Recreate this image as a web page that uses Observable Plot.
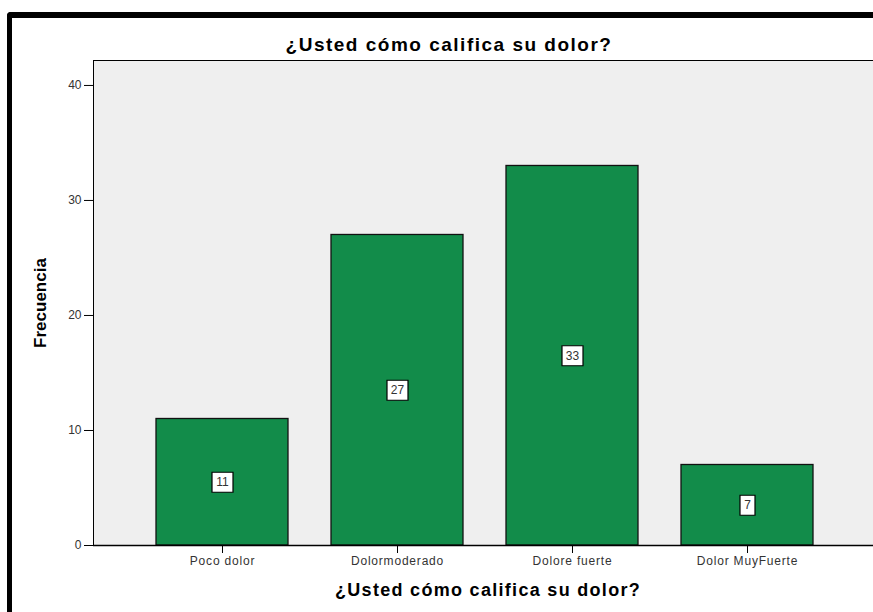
<!DOCTYPE html>
<html>
<head>
<meta charset="utf-8">
<script src="https://cdn.jsdelivr.net/npm/d3@7"></script>
<script src="https://cdn.jsdelivr.net/npm/@observablehq/plot@0.6"></script>
<style>
  html, body { margin: 0; padding: 0; overflow: hidden; background: white; }
  #wrap { position: relative; width: 873px; height: 612px; overflow: hidden; }
  #border { position: absolute; left: 7px; top: 12px; width: 1000px; height: 800px;
            border-top: 6px solid #000; border-left: 5px solid #000; border-top-left-radius: 4px; box-sizing: border-box; }
  #chart { position: absolute; left: 0; top: 0; }
</style>
</head>
<body>
<div id="wrap">
  <div id="border"></div>
  <div id="chart"></div>
</div>
<script>
const categories = ["Poco dolor", "Dolormoderado", "Dolore fuerte", "Dolor MuyFuerte"];
const frecuencias = [11, 27, 33, 7];
const yTicks = [0, 10, 20, 30, 40];
const chartTitle = "¿Usted cómo califica su dolor?";
const xLabel = "¿Usted cómo califica su dolor?";
const yLabel = "Frecuencia";

const data = categories.map((c, i) => ({category: c, value: frecuencias[i], mid: frecuencias[i] / 2}));

function boxSymbol(w, h) {
  return {draw(ctx) { ctx.rect(-w / 2, -h / 2, w, h); }};
}

const font = "'Liberation Sans', Arial, sans-serif";

const plot = Plot.plot({
  width: 873,
  height: 612,
  marginLeft: 93,
  marginRight: -3,
  marginTop: 60,
  marginBottom: 67,
  style: {fontFamily: font, background: "transparent", overflow: "visible", maxWidth: "none"},
  x: {domain: categories, paddingInner: 0.244, paddingOuter: 0.347, label: null, tickSize: 8, tickPadding: 3},
  y: {domain: [0, 42.17], ticks: yTicks, label: null, tickSize: 9, tickPadding: 3},
  marks: [
    Plot.frame({fill: "#efefef", stroke: "#000", strokeWidth: 1}),
    Plot.barY(data, {x: "category", y: "value", fill: "#128c4a", stroke: "#111", strokeWidth: 1.3}),
    Plot.ruleY([0], {stroke: "#000", strokeWidth: 1.3}),
    Plot.dot(data.filter(d => d.value >= 10), {x: "category", y: "mid", symbol: boxSymbol(21, 20), r: 10, fill: "white", stroke: "#000", strokeWidth: 1.2}),
    Plot.dot(data.filter(d => d.value < 10), {x: "category", y: "mid", symbol: boxSymbol(15, 20), r: 10, fill: "white", stroke: "#000", strokeWidth: 1.2}),
    Plot.text(data, {x: "category", y: "mid", text: d => String(d.value), fontSize: 12, fill: "#333"}),
    Plot.text([chartTitle], {frameAnchor: "top", textAnchor: "middle", dx: -36, dy: -23, lineAnchor: "top", fontSize: 19, fontWeight: "bold", fill: "#000", style: "letter-spacing:1.5px"}),
    Plot.text([xLabel], {frameAnchor: "bottom", textAnchor: "middle", dx: 3, dy: 38, lineAnchor: "top", fontSize: 18, fontWeight: "bold", fill: "#000"}),
    Plot.text([yLabel], {frameAnchor: "left", textAnchor: "middle", dx: -53, dy: 0, rotate: -90, fontSize: 17, fontWeight: "bold", fill: "#000"})
  ]
});

const sel = d3.select(plot);
sel.selectAll("g[aria-label^='x-axis'], g[aria-label^='y-axis']").attr("font-size", 12).attr("fill", "#333");
sel.selectAll("g[aria-label^='x-axis'] text").style("letter-spacing", "0.8px");
// letter spacing for title and x label
sel.selectAll("text").filter(function() { return this.textContent === chartTitle; })
  .each(function(d, i) { if (i === 0) d3.select(this).style("letter-spacing", "1.5px"); });
const titles = sel.selectAll("text").filter(function() { return this.textContent === chartTitle; }).nodes();
if (titles[0]) titles[0].style.letterSpacing = "1.5px";
if (titles[1]) titles[1].style.letterSpacing = "1.3px";

document.getElementById("chart").appendChild(plot);
</script>
</body>
</html>
